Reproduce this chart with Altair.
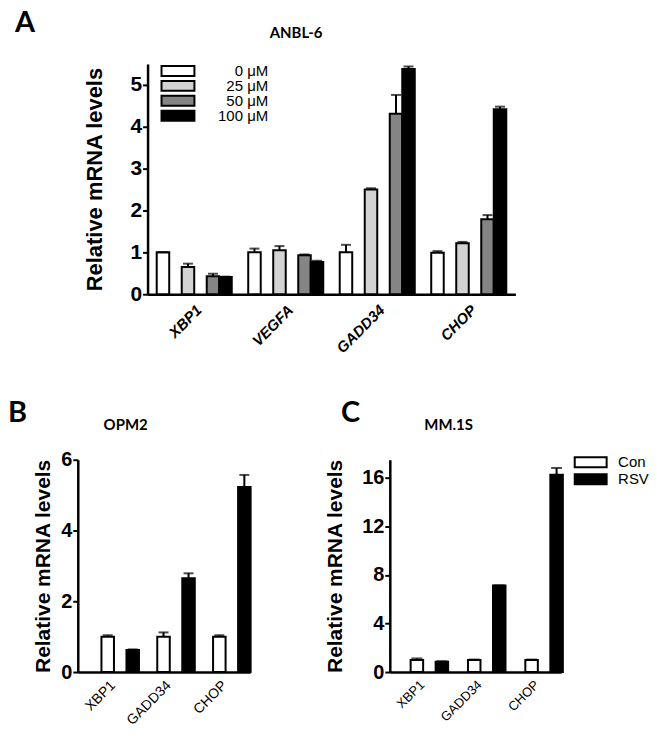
import altair as alt
import pandas as pd

# ---------------- data ----------------
genes_a = ["XBP1", "VEGFA", "GADD34", "CHOP"]
doses = ["0 μM", "25 μM", "50 μM", "100 μM"]
dose_colors = ["#ffffff", "#d3d3d3", "#858585", "#000000"]

# mean per dose, in gene order
a_0 = [1.00, 1.00, 1.00, 0.99]
a_25 = [0.65, 1.05, 2.50, 1.22]
a_50 = [0.43, 0.93, 4.31, 1.79]
a_100 = [0.41, 0.77, 5.38, 4.42]
# SEM per dose
a_0_err = [0.00, 0.09, 0.18, 0.04]
a_25_err = [0.08, 0.10, 0.03, 0.03]
a_50_err = [0.06, 0.02, 0.45, 0.10]
a_100_err = [0.01, 0.03, 0.06, 0.06]

genes_bc = ["XBP1", "GADD34", "CHOP"]
treatments = ["Con", "RSV"]
treat_colors = ["#ffffff", "#000000"]

b_con = [1.00, 1.00, 1.00]
b_con_err = [0.04, 0.12, 0.04]
b_rsv = [0.62, 2.65, 5.23]
b_rsv_err = [0.02, 0.14, 0.34]

c_con = [1.00, 1.00, 1.00]
c_con_err = [0.12, 0.03, 0.03]
c_rsv = [0.85, 7.14, 16.27]
c_rsv_err = [0.04, 0.00, 0.55]

y_title = "Relative mRNA levels"


def frame(genes, groups, means, errs):
    rows = []
    for grp, m, e in zip(groups, means, errs):
        for g, v, s in zip(genes, m, e):
            rows.append({"gene": g, "group": grp, "value": v, "err": s, "top": v + s})
    return pd.DataFrame(rows)


df_a = frame(genes_a, doses, [a_0, a_25, a_50, a_100],
             [a_0_err, a_25_err, a_50_err, a_100_err])
df_b = frame(genes_bc, treatments, [b_con, b_rsv], [b_con_err, b_rsv_err])
df_c = frame(genes_bc, treatments, [c_con, c_rsv], [c_con_err, c_rsv_err])

AX = "Liberation Sans"
TF = "Lato"


def label_text(txt, x, y, size, align):
    return alt.Chart(pd.DataFrame({"t": [txt]})).mark_text(
        font=TF, fontSize=size, fontWeight="bold", align=align,
        baseline="alphabetic", color="black"
    ).encode(text="t:N", x=alt.value(x), y=alt.value(y))


def panel(df, genes, groups, colors, ymax, yvals, width, height,
          pad_in, pad_out, xlab, ylab_size, ytitle_size, ytitle_pad, cap, legend,
          extra):
    xaxis = alt.Axis(title=None, labelAngle=-45, ticks=False, labelFont=AX,
                     labelFontSize=xlab["size"], labelFontWeight=xlab["weight"],
                     labelFontStyle=xlab["style"], labelPadding=xlab["pad"],
                     domainWidth=2.5, domainColor="black", labelColor="black")
    base = alt.Chart(df).encode(
        x=alt.X("gene:N", sort=genes,
                scale=alt.Scale(paddingInner=pad_in, paddingOuter=pad_out),
                axis=xaxis),
        xOffset=alt.XOffset("group:N", sort=groups,
                            scale=alt.Scale(paddingInner=0, paddingOuter=0)),
    )
    yscale = alt.Scale(domain=[0, ymax], nice=False)
    yaxis = alt.Axis(title=y_title, values=yvals, labelFont=AX,
                     labelFontSize=ylab_size, labelFontWeight="bold",
                     labelColor="black", titleFont=AX, titleFontSize=ytitle_size,
                     titleFontWeight="bold", titleColor="black",
                     titlePadding=ytitle_pad,
                     tickSize=5, tickWidth=2, tickColor="black",
                     domainWidth=2.5, domainColor="black", labelPadding=1,
                     grid=False)
    bars = base.mark_bar(stroke="black", strokeWidth=2).encode(
        y=alt.Y("value:Q", scale=yscale, axis=yaxis),
        fill=alt.Fill("group:N", sort=groups,
                      scale=alt.Scale(domain=groups, range=colors),
                      legend=legend),
    )
    rule = base.mark_rule(color="black", strokeWidth=2).encode(
        y=alt.Y("value:Q", scale=yscale), y2="top:Q")
    capm = base.mark_tick(color="black", thickness=2, size=cap).encode(
        y=alt.Y("top:Q", scale=yscale))
    layers = [bars, rule, capm] + [label_text(*e) for e in extra]
    return alt.layer(*layers).properties(width=width, height=height)


legend_a = alt.Legend(
    title=None, orient="none", legendX=12, legendY=0, padding=0,
    symbolType="M-3.3,-1L3.3,-1L3.3,1L-3.3,1Z", symbolSize=100, symbolOffset=11,
    symbolStrokeColor="black", symbolStrokeWidth=2, symbolOpacity=1,
    labelAlign="right", labelOffset=83, labelFont=AX, labelFontSize=15,
    labelColor="black", rowPadding=-1, clipHeight=14, labelLimit=0,
)
legend_c = alt.Legend(
    title=None, orient="none", legendX=194, legendY=-5, padding=0,
    symbolType="M-3.2,-1L3.2,-1L3.2,1L-3.2,1Z", symbolSize=100,
    symbolStrokeColor="black", symbolStrokeWidth=2, symbolOpacity=1,
    labelOffset=20, labelFont=AX, labelFontSize=15,
    labelColor="black", rowPadding=-2, labelLimit=0,
)

chart_a = panel(df_a, genes_a, doses, dose_colors, 5.5, [0, 1, 2, 3, 4, 5],
                369, 231, 0.18, 0.1,
                {"size": 15, "weight": "bold", "style": "italic", "pad": 8},
                21, 22, 24, 10, legend_a,
                [("ANBL-6", 149, -26, 15, "center")])

chart_b = panel(df_b, genes_bc, treatments, treat_colors, 6, [0, 2, 4, 6],
                173, 213, 0.31, 0.2,
                {"size": 14, "weight": "normal", "style": "normal", "pad": 6},
                20, 21, 7, 10, None,
                [("B", -70, -38, 29, "left"), ("OPM2", 48, -30, 15, "center")])

chart_c = panel(df_c, genes_bc, treatments, treat_colors, 17.5, [0, 4, 8, 12, 16],
                172, 213, 0.3, 0.145,
                {"size": 13, "weight": "normal", "style": "normal", "pad": 6},
                20, 21, 16, 11, legend_c,
                [("C", -49, -38, 29, "left"), ("MM.1S", 59, -30, 15, "center")])

# holder for the panel letter "A", left of panel A (same height as panel A)
letter_a = label_text("A", -63, -32, 29, "left").properties(width=1, height=231)

top = alt.hconcat(letter_a, chart_a, spacing=69, bounds="flush").resolve_scale(
    fill="independent")
bottom = alt.hconcat(chart_b, chart_c, spacing=140, bounds="flush").resolve_scale(
    fill="independent")

chart = alt.vconcat(top, bottom, spacing=397, bounds="flush").properties(
    padding=0
).configure_view(stroke=None).configure_axis(grid=False)

chart.save("out.html", embed_options={"renderer": "svg", "actions": False})
